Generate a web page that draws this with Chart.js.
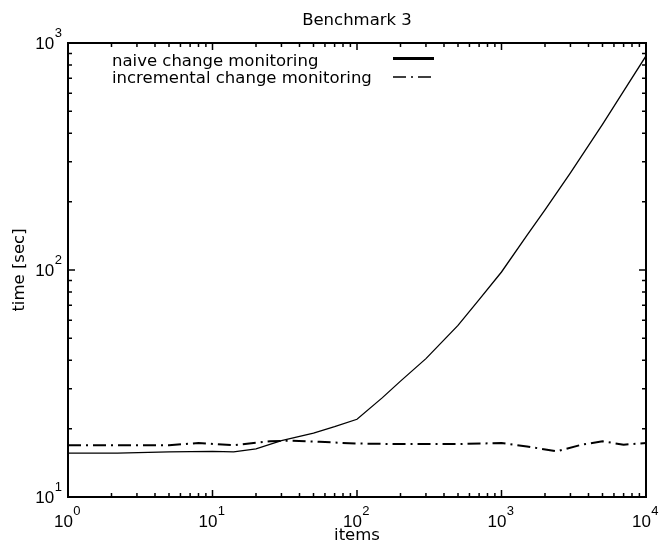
<!DOCTYPE html>
<html><head><meta charset="utf-8">
<script src="https://cdn.jsdelivr.net/npm/chart.js@4/dist/chart.umd.min.js"></script>
<style>html,body{margin:0;padding:0;background:#fff;}#wrap{width:661px;height:547px;position:relative;}</style>
</head><body><div id="wrap"><canvas id="c" width="661" height="547"></canvas></div>
<script>
const chartTitle = 'Benchmark 3';
const xAxisTitle = 'items';
const yAxisTitle = 'time [sec]';
const seriesNames = ['naive change monitoring', 'incremental change monitoring'];

const naiveItems = [1, 2.2, 5, 10, 14, 20, 30, 50, 70, 100, 150, 200, 300, 500, 700, 1000, 1500, 2000, 3000, 5000, 7000, 10000];
const naiveTimes = [15.6, 15.6, 15.8, 15.9, 15.8, 16.3, 17.7, 19.1, 20.4, 22.0, 27.4, 32.4, 40.7, 57, 74, 98, 142, 184, 268, 438, 614, 877];

const incrItems = [1, 5, 8, 14, 25, 35, 55, 100, 200, 500, 1000, 1500, 2400, 3600, 5000, 7000, 10000];
const incrTimes = [16.9, 16.9, 17.3, 16.9, 17.6, 17.7, 17.5, 17.2, 17.1, 17.1, 17.3, 16.7, 15.9, 17.0, 17.6, 17.0, 17.3];

const xTickValues = [1, 10, 100, 1000, 10000];
const xTickLabels = ['10^0', '10^1', '10^2', '10^3', '10^4'];
const yTickValues = [10, 100, 1000];
const yTickLabels = ['10^1', '10^2', '10^3'];

const FONT = {family: "'DejaVu Sans', sans-serif", size: 16.5, weight: 'normal'};
const BASE_FONT = "17px 'Liberation Sans', Arial, sans-serif";
const EXP_FONT = "13px 'Liberation Sans', Arial, sans-serif";

const titleCenterPlugin = {
  id: 'titleCenter',
  afterLayout(chart) {
    const t = chart.titleBlock, a = chart.chartArea;
    if (t) { t.left = a.left; t.right = a.right; t.width = a.right - a.left; }
  }
};

const framePlugin = {
  id: 'frame',
  afterDatasetsDraw(chart) {
    const {ctx, chartArea: a, scales: {x, y}} = chart;
    ctx.save();
    ctx.strokeStyle = '#000';
    ctx.lineWidth = 1.5;
    const minor = [2,3,4,5,6,7,8,9];
    const tick = (px, isX, len) => {
      ctx.beginPath();
      if (isX) {
        ctx.moveTo(px, a.bottom); ctx.lineTo(px, a.bottom - len);
        ctx.moveTo(px, a.top); ctx.lineTo(px, a.top + len);
      } else {
        ctx.moveTo(a.left, px); ctx.lineTo(a.left + len, px);
        ctx.moveTo(a.right, px); ctx.lineTo(a.right - len, px);
      }
      ctx.stroke();
    };
    xTickValues.forEach((v, i) => {
      tick(x.getPixelForValue(v), true, 7);
      if (i < xTickValues.length - 1) minor.forEach(m => tick(x.getPixelForValue(v * m), true, 4));
    });
    yTickValues.forEach((v, i) => {
      tick(y.getPixelForValue(v), false, 7);
      if (i < yTickValues.length - 1) minor.forEach(m => tick(y.getPixelForValue(v * m), false, 4));
    });
    ctx.lineWidth = 2;
    ctx.strokeRect(a.left, a.top, a.right - a.left, a.bottom - a.top);

    // tick labels: base "10" with raised exponent
    ctx.fillStyle = '#000';
    ctx.textBaseline = 'alphabetic';
    ctx.textAlign = 'left';
    const measure = (b, e) => {
      ctx.font = BASE_FONT; const wb = ctx.measureText(b).width;
      ctx.font = EXP_FONT; const we = ctx.measureText(e).width;
      return [wb, we];
    };
    const drawLabel = (lbl, lx, by, ey) => {
      const [b, e] = lbl.split('^');
      const [wb] = measure(b, e);
      ctx.font = BASE_FONT; ctx.fillText(b, lx, by);
      ctx.font = EXP_FONT; ctx.fillText(e, lx + wb + 0.5, ey);
    };
    xTickValues.forEach((v, i) => {
      const px = x.getPixelForValue(v);
      const [b, e] = xTickLabels[i].split('^');
      const [wb, we] = measure(b, e);
      drawLabel(xTickLabels[i], px - (wb + we) / 2 - 1, a.bottom + 30, a.bottom + 18);
    });
    yTickValues.forEach((v, i) => {
      const py = y.getPixelForValue(v);
      const [b, e] = yTickLabels[i].split('^');
      const [wb, we] = measure(b, e);
      drawLabel(yTickLabels[i], a.left - 6 - wb - we - 0.5, py + 5.5, py - 6.5);
    });
    ctx.restore();
  }
};

const legendPlugin = {
  id: 'gpLegend',
  afterDraw(chart) {
    const {ctx} = chart;
    ctx.save();
    ctx.font = "16.5px 'DejaVu Sans', sans-serif";
    ctx.fillStyle = '#000';
    ctx.textBaseline = 'alphabetic';
    ctx.textAlign = 'left';
    const rows = [{ty: 65.5, ly: 58.5, w: 3}, {ty: 83, ly: 77, w: 1.5}];
    chart.data.datasets.forEach((ds, i) => {
      const r = rows[i];
      ctx.fillText(ds.label, 112, r.ty);
      ctx.beginPath();
      ctx.lineWidth = r.w;
      ctx.strokeStyle = '#000';
      ctx.setLineDash(i === 1 ? [13, 5, 2, 5] : []);
      ctx.moveTo(393, r.ly); ctx.lineTo(434, r.ly);
      ctx.stroke();
    });
    ctx.restore();
  }
};

new Chart(document.getElementById('c'), {
  type: 'line',
  data: {
    datasets: [
      {label: seriesNames[0], data: naiveItems.map((v, i) => ({x: v, y: naiveTimes[i]})),
       borderColor: '#000', borderWidth: 1.3, pointRadius: 0, tension: 0, fill: false},
      {label: seriesNames[1], data: incrItems.map((v, i) => ({x: v, y: incrTimes[i]})),
       borderColor: '#000', borderWidth: 2, borderDash: [13, 5, 2, 5], pointRadius: 0, tension: 0, fill: false}
    ]
  },
  options: {
    responsive: false,
    animation: false,
    devicePixelRatio: 1,
    layout: {padding: {left: 0, right: 15, top: 0, bottom: 0}},
    plugins: {
      legend: {display: false},
      tooltip: {enabled: false},
      title: {display: true, text: chartTitle, color: '#000', font: FONT, padding: {top: 11.2, bottom: 12}}
    },
    scales: {
      x: {
        type: 'logarithmic', position: 'bottom', min: 1, max: 10000,
        grid: {display: false}, border: {display: false},
        afterBuildTicks: s => { s.ticks = xTickValues.map(v => ({value: v})); },
        ticks: {display: false},
        title: {display: true, text: xAxisTitle, color: '#000', font: FONT, padding: {top: 0, bottom: 1}},
        afterFit: s => { s.height = 50; s.paddingLeft = 0; s.paddingRight = 0; }
      },
      y: {
        type: 'logarithmic', position: 'left', min: 10, max: 1000,
        grid: {display: false}, border: {display: false},
        afterBuildTicks: s => { s.ticks = yTickValues.map(v => ({value: v})); },
        ticks: {display: false},
        title: {display: true, text: yAxisTitle, color: '#000', font: FONT, padding: {top: 10, bottom: 0}},
        afterFit: s => { s.width = 68; s.paddingTop = 0; s.paddingBottom = 0; }
      }
    }
  },
  plugins: [titleCenterPlugin, framePlugin, legendPlugin]
});
</script>
</body></html>
